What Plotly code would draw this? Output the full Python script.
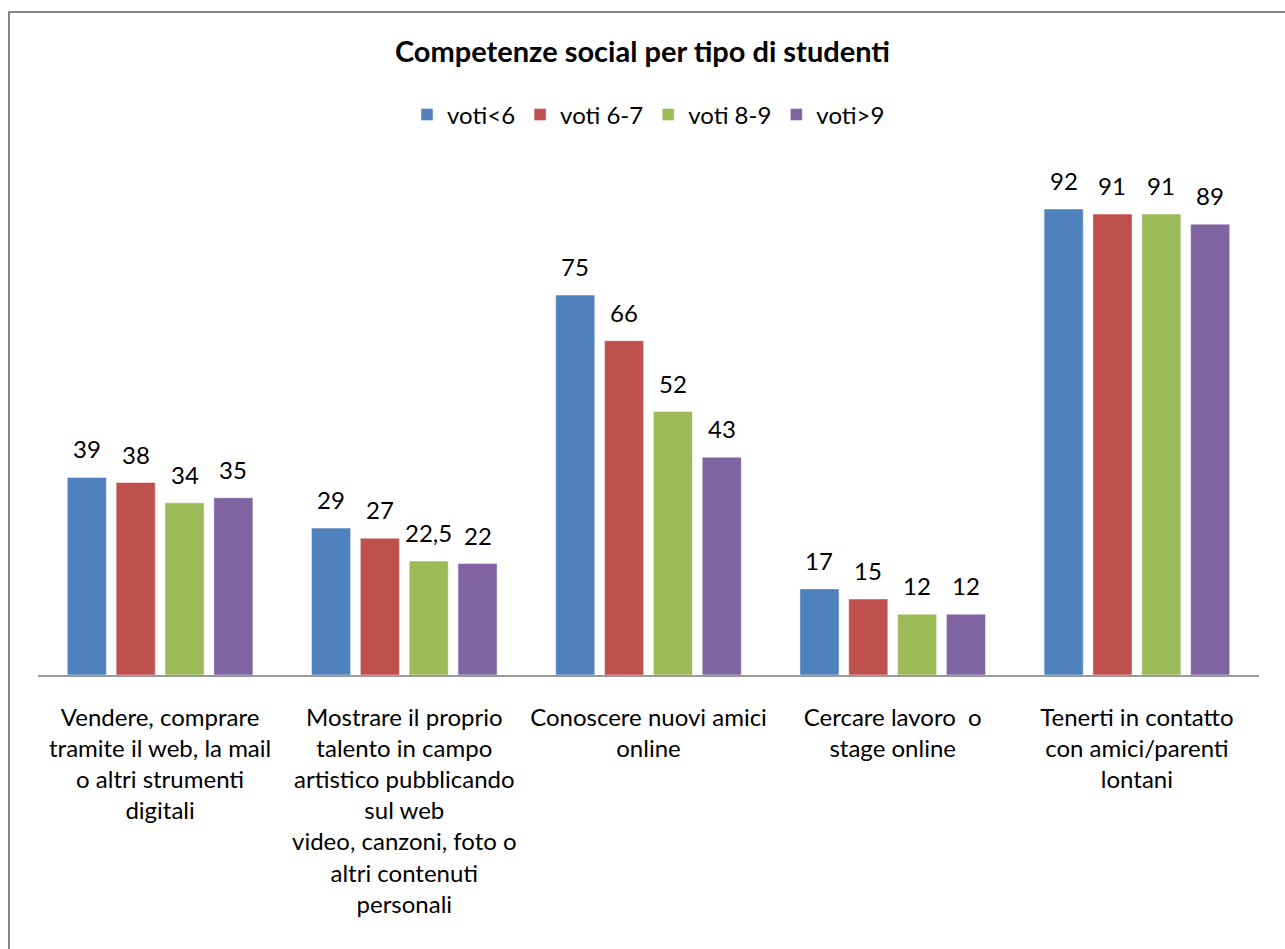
import plotly.graph_objects as go

categories = [
    "Vendere, comprare<br>tramite il web, la mail<br>o altri strumenti<br>digitali",
    "Mostrare il proprio<br>talento in campo<br>artistico pubblicando<br>sul web<br>video, canzoni, foto o<br>altri contenuti<br>personali",
    "Conoscere nuovi amici<br>online",
    "Cercare lavoro  o<br>stage online",
    "Tenerti in contatto<br>con amici/parenti<br>lontani",
]
series_names = ["voti<6", "voti 6-7", "voti 8-9", "voti>9"]
voti_lt6 = [39, 29, 75, 17, 92]
voti_6_7 = [38, 27, 66, 15, 91]
voti_8_9 = [34, 22.5, 52, 12, 91]
voti_gt9 = [35, 22, 43, 12, 89]
series_values = [voti_lt6, voti_6_7, voti_8_9, voti_gt9]
colors = ["#4F81BD", "#C0504D", "#9BBB59", "#8064A2"]

FONT = "Lato"
W, H = 1285, 949
L, R, T, B = 38, 26, 160, 274
BARGAP = 0.2
PX_PER_UNIT = 5.065

pw = W - L - R
ph = H - T - B

fig = go.Figure()
x_idx = list(range(len(categories)))
slot = (1 - BARGAP) / len(series_names)
annotations = []
for i, (name, vals, col) in enumerate(zip(series_names, series_values, colors)):
    fig.add_trace(go.Bar(
        x=x_idx, y=vals, name=name,
        marker=dict(color=col, line=dict(color="rgba(255,255,255,0.45)", width=1)),
        cliponaxis=False,
    ))
    # value labels above each bar
    off = (i - (len(series_names) - 1) / 2) * slot
    for xi, v in zip(x_idx, vals):
        annotations.append(dict(
            x=xi + off, y=v, xref="x", yref="y",
            text=str(v).replace(".", ","), showarrow=False,
            yanchor="bottom", yshift=12,
            font=dict(family=FONT, size=24, color="#000000"),
        ))

fig.update_layout(
    width=W, height=H,
    margin=dict(l=L, r=R, t=T, b=B),
    paper_bgcolor="white", plot_bgcolor="white",
    barmode="group", bargap=BARGAP, bargroupgap=0.2,
    title=dict(text="<b>Competenze social per tipo di studenti</b>",
               x=0.5, xanchor="center", y=1 - 52 / H, yanchor="middle",
               font=dict(family=FONT, size=29, color="#000000")),
    legend=dict(orientation="h", x=0.5, xanchor="center",
                y=1 + (T - 115) / ph, yanchor="middle",
                font=dict(family=FONT, size=24, color="#000000"),
                itemwidth=30, traceorder="normal"),
    font=dict(family=FONT, color="#000000"),
    showlegend=True,
    annotations=annotations,
)
fig.update_xaxes(
    tickvals=x_idx, ticktext=categories, range=[-0.5, 4.5],
    showline=True, linecolor="#9A9A9A", linewidth=1.5,
    ticks="", showgrid=False, zeroline=False,
    tickfont=dict(family=FONT, size=24, color="#000000"),
    ticklabelstandoff=20, tickangle=0,
)
fig.update_yaxes(range=[0, ph / PX_PER_UNIT], visible=False, showgrid=False)

# chart frame
fig.add_shape(type="rect", xref="paper", yref="paper",
              x0=(9 - L) / pw, x1=(W + 20 - L) / pw,
              y0=-(H + 20 - (H - B)) / ph, y1=1 + (T - 12) / ph,
              line=dict(color="#868686", width=2), fillcolor="rgba(0,0,0,0)",
              layer="below")

fig.write_html("out.html")
